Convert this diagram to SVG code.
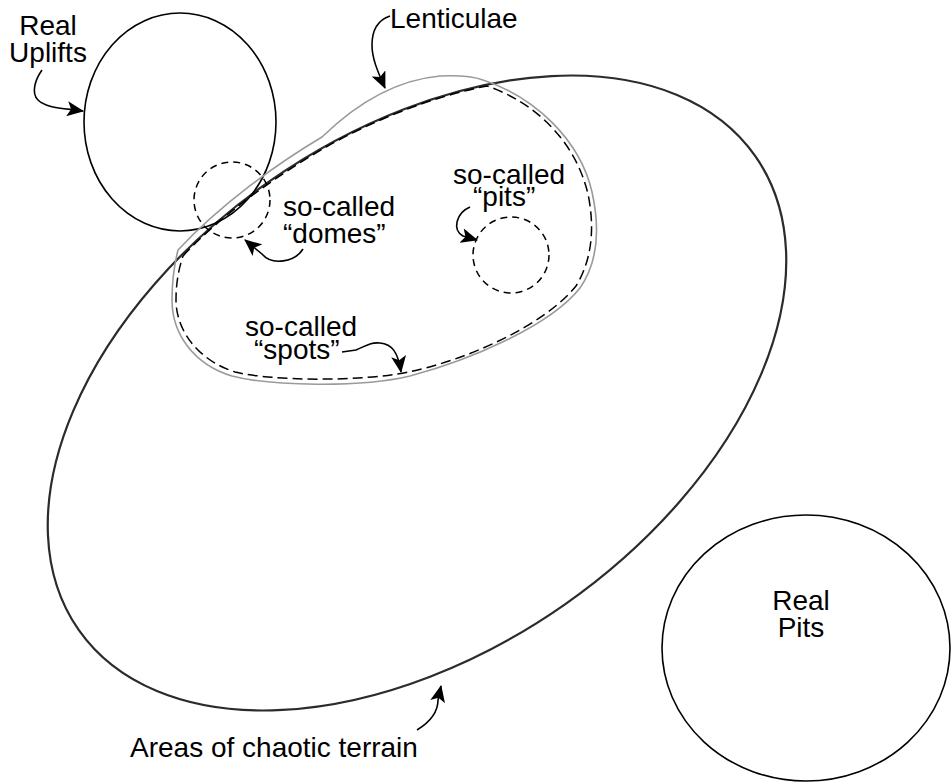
<svg xmlns="http://www.w3.org/2000/svg" width="951" height="782" viewBox="0 0 951 782">
  <style>
    text { font-family: "Liberation Sans", Arial, sans-serif; font-size: 28px; fill: #000; }
    .solid { fill: none; stroke: #000; stroke-width: 1.6; }
    .terrain { fill: none; stroke: #2b2b2b; stroke-width: 2.2; }
    .lent { fill: none; stroke: #9a9a9a; stroke-width: 1.6; }
    .dash-big { fill: none; stroke: #000; stroke-width: 1.5; stroke-dasharray: 10 5; }
    .dash-small { fill: none; stroke: #000; stroke-width: 1.5; stroke-dasharray: 7 5; }
    .conn { fill: none; stroke: #000; stroke-width: 1.6; marker-end: url(#head); }
  </style>
  <defs>
    <marker id="head" viewBox="0 0 17 15" refX="16" refY="7.5" markerWidth="17" markerHeight="15" markerUnits="userSpaceOnUse" orient="auto">
      <path d="M0,0 L17,7.5 L0,15 L4,7.5 Z" fill="#000"/>
    </marker>
  </defs>
  <rect width="951" height="782" fill="#fff"/>

  <!-- Areas of chaotic terrain: large tilted ellipse -->
  <g id="chaotic-terrain">
    <ellipse class="terrain" cx="417" cy="393" rx="413" ry="258" transform="rotate(-35 417 393)"/>
    <text x="130" y="757">Areas of chaotic terrain</text>
  </g>

  <!-- Real uplifts -->
  <g id="real-uplifts">
    <ellipse class="solid" cx="180" cy="122" rx="96" ry="109"/>
    <text text-anchor="middle"><tspan x="48" y="35">Real</tspan><tspan x="48" y="62">Uplifts</tspan></text>
  </g>

  <!-- Lenticulae outline -->
  <g id="lenticulae">
    <path class="lent" d="M178,250 C220,205 275,165 322,137 C355,105 395,80 440,76 C462,75 475,77 483,80 C535,97 580,140 592,192 C600,228 598,262 580,288 C550,326 470,360 410,376 C360,388 270,386 232,376 C195,365 172,335 172,300 C172,280 175,262 178,250 Z"/>
    <text x="390" y="28">Lenticulae</text>
  </g>

  <!-- So-called spots -->
  <g id="spots">
    <path class="dash-big" d="M183,256 C222,214 278,175 326,147 C370,122 430,97 487,86 C537,103 576,143 588,194 C595,228 592,260 576,286 C544,326 464,361 408,372 C360,382 272,381 235,372 C200,361 176,332 176,300 C176,282 179,268 183,256"/>
    <text x="245" y="336">so-called</text>
    <text x="254" y="359">“spots”</text>
  </g>

  <!-- So-called domes -->
  <g id="domes">
    <circle class="dash-small" cx="232" cy="200" r="38"/>
    <text x="283" y="216">so-called</text>
    <text x="283" y="243">“domes”</text>
  </g>

  <!-- So-called pits -->
  <g id="pits">
    <circle class="dash-small" cx="511" cy="255" r="38"/>
    <text x="453" y="184">so-called</text>
    <text x="473" y="206">“pits”</text>
  </g>

  <!-- Real pits -->
  <g id="real-pits">
    <ellipse class="solid" cx="806" cy="648" rx="144" ry="133"/>
    <text text-anchor="middle"><tspan x="801" y="610">Real</tspan><tspan x="801" y="637">Pits</tspan></text>
  </g>

  <!-- Label pointers -->
  <g id="connectors">
    <path class="conn" d="M42,70 C35,80 31,93 38,100 C46,108 62,108 83,111"/>
    <path class="conn" d="M390,16 C378,20 372,30 372,45 C372,58 377,70 385,88"/>
    <path class="conn" d="M303,249 C295,262 272,266 262,254 L245,240"/>
    <path class="conn" d="M470,207 C456,213 452,230 463,236 L477,240"/>
    <path class="conn" d="M342,352 L356,350 C366,346 370,342 380,343 C392,344 398,352 401,372"/>
    <path class="conn" d="M417,730 C430,722 438,712 438,700 L441,686"/>
  </g>
</svg>
